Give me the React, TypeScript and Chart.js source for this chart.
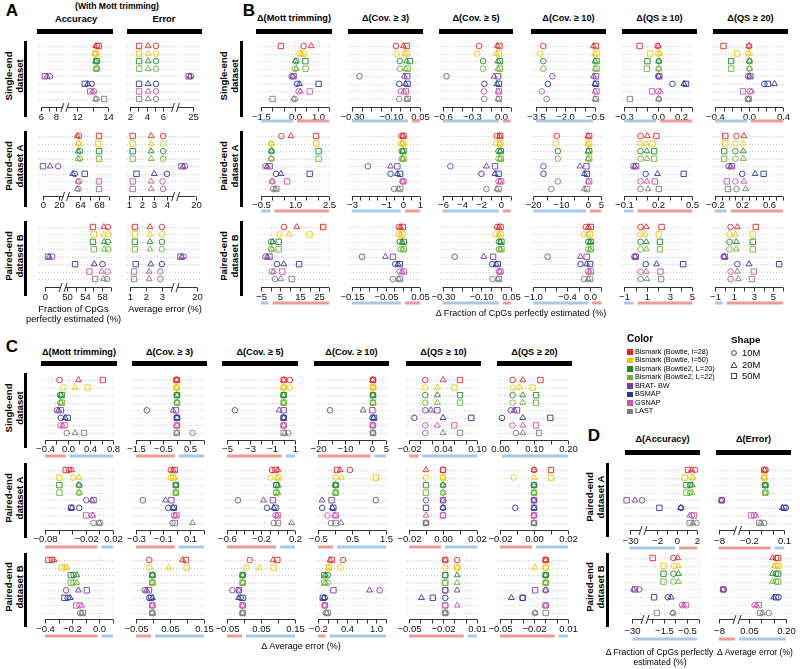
import React, { useEffect, useRef } from "react";
import { Chart, registerables } from "chart.js";

Chart.register(...registerables);

const FONT = '"Liberation Sans", Arial, Helvetica, sans-serif';

const ALIGNERS = [
  "Bismark (Bowtie, l=28)",
  "Bismark (Bowtie, l=50)",
  "Bismark (Bowtie2, L=20)",
  "Bismark (Bowtie2, L=22)",
  "BRAT- BW",
  "BSMAP",
  "GSNAP",
  "LAST",
];
const COLORS = ["#e0282a", "#f0c400", "#1e8a2c", "#6cb432", "#7a3ca0", "#2a3798", "#c852ac", "#7c7c7c"];
const READS = ["10M", "20M", "50M"];
const SHAPES = ["circle", "triangle", "rect"];
const RADII = [2.8, 3.4, 3.8];

const HEAD_A = ["Accuracy", "Error"];
const HEAD_BC = ["Δ(Mott trimming)", "Δ(Cov. ≥ 3)", "Δ(Cov. ≥ 5)", "Δ(Cov. ≥ 10)", "Δ(QS ≥ 10)", "Δ(QS ≥ 20)"];
const HEAD_D = ["Δ(Accuracy)", "Δ(Error)"];
const ROW_LABELS = [["Single-end", "dataset"], ["Paired-end", "dataset A"], ["Paired-end", "dataset B"]];

// each row: one aligner (order of ALIGNERS); columns: 10M, 20M, 50M reads
// ---------- Panel A ----------
const A_SE_ACC = [[13.3, 13.2, 13.4], [13.2, 13.15, 13.2], [13.3, 13.2, 13.25], [13.3, 13.25, 13.25], [7.2, 6.8, 6.5], [12.95, 12.7, 12.5], [13.1, 13.0, 12.85], [13.25, 13.2, 13.75]];
const A_SE_ERR = [[5.15, 4.2, 3.1], [5.15, 4.2, 3.1], [5.15, 4.2, 3.1], [5.15, 4.2, 3.1], [24.4, 24.1, 23.8], [5.15, 4.2, 3.1], [5.15, 4.2, 3.1], [5.15, 4.2, 3.1]];
const A_PA_ACC = [[63.8, 63.4, 68.0], [63.8, 63.7, 67.8], [64.0, 63.6, 68.0], [64.0, 63.6, 68.0], [19, 9, 0], [62.9, 62.5, 65.0], [63.8, 63.6, 68.0], [63.7, 63.4, 68.0]];
const A_PA_ERR = [[3.7, 2.75, 1.3], [3.7, 2.75, 1.3], [3.7, 2.75, 1.3], [3.7, 2.75, 1.3], [17.6, 17.2, 16.8], [4.0, 3.0, 1.6], [3.65, 2.75, 1.3], [3.7, 2.75, 1.3]];
const A_PB_ACC = [[59.35, 58.4, 55.9], [59.4, 58.4, 56.1], [59.3, 58.5, 55.9], [59.4, 58.5, 56.1], [13.7, 8, 5.6], [58.1, 56.2, 51.8], [59.3, 57.9, 55.1], [59.1, 58.3, 56.4]];
const A_PB_ERR = [[3.0, 2.25, 1.3], [3.0, 2.25, 1.3], [3.0, 2.25, 1.3], [3.0, 2.25, 1.3], [15.3, 14.7, 14.2], [3.0, 2.3, 1.35], [2.9, 2.2, 1.25], [2.9, 2.2, 1.25]];

// ---------- Panel B ----------
const B_SE_MOTT = [[0.38, 0.72, -0.62], [0.2, 0.28, 0.38], [0.06, 0.01, 0.46], [0.0, 0.06, 0.47], [-0.15, -0.09, -0.06], [0.09, 0.2, 1.04], [0.16, 0.24, 0.65], [-0.01, -0.06, -0.99]];
const B_SE_COV3 = [[-0.073, -0.035, -0.018], [-0.07, -0.027, -0.018], [-0.053, -0.018, -0.001], [-0.053, -0.023, -0.013], [-0.26, -0.03, -0.015], [-0.056, -0.024, -0.013], [-0.047, -0.032, -0.022], [-0.056, -0.018, -0.013]];
const B_SE_COV5 = [[-0.224, -0.038, -0.014], [-0.245, -0.045, -0.02], [-0.183, -0.03, -0.01], [-0.183, -0.03, -0.01], [-0.56, -0.07, -0.03], [-0.17, -0.04, -0.02], [-0.175, -0.03, -0.02], [-0.17, -0.03, -0.02]];
const B_SE_COV10 = [[-3.13, -0.58, -0.45], [-3.3, -0.5, -0.42], [-3.13, -0.5, -0.42], [-3.13, -0.5, -0.42], [-2.67, -0.58, -0.45], [-2.9, -0.5, -0.45], [-3.2, -0.5, -0.42], [-2.96, -0.5, -0.45]];
const B_SE_QS10 = [[-0.005, 0.0, -0.164], [0.0, 0.015, -0.07], [0.005, 0.005, -0.095], [0.005, 0.005, -0.1], [0.0, 0.005, 0.01], [0.126, 0.227, 0.245], [0.0, 0.02, -0.054], [0.005, 0.005, -0.25]];
const B_SE_QS20 = [[0.0, 0.0, -0.3], [-0.01, 0.005, -0.14], [0.005, 0.005, -0.21], [0.005, 0.005, -0.21], [-0.01, 0.008, 0.016], [0.18, 0.3, 0.22], [0.012, 0.03, -0.07], [-0.015, -0.004, -0.004]];
const B_PA_MOTT = [[0.4, 0.82, 1.93], [-0.05, -0.04, 1.94], [-0.04, -0.04, 2.04], [-0.04, -0.04, 2.04], [-0.3, -0.23, -0.12], [0.16, 0.38, 1.65], [0.0, -0.01, 0.65], [0.03, 0.13, 0.18]];
const B_PA_COV3 = [[-0.08, 0.02, 0.04], [-0.12, -0.02, 0.04], [-0.06, 0.0, 0.04], [-0.06, 0.0, 0.04], [-2.06, -0.72, -0.32], [-0.72, -0.32, -0.16], [-0.02, 0.0, 0.04], [-0.52, -0.26, -0.16]];
const B_PA_COV5 = [[-0.42, -0.13, -0.06], [-0.49, -0.13, -0.06], [-0.24, -0.06, 0.0], [-0.24, -0.06, 0.0], [-5.2, -1.48, -0.6], [-2.0, -0.6, -0.24], [-0.24, -0.06, 0.03], [-1.48, -0.42, -0.24]];
const B_PA_COV10 = [[-11.4, 0.0, 0.5], [-11.8, 0.0, 0.5], [-11.0, 0.1, 0.5], [-11.0, 0.1, 0.5], [-16.3, -2.9, -0.5], [-16.3, -1.3, -0.3], [-11.0, 0.2, 0.5], [-13.4, -1.3, -0.3]];
const B_PA_QS10 = [[0.044, 0.104, 0.185], [0.041, 0.095, 0.149], [0.044, 0.1, 0.164], [0.044, 0.1, 0.164], [-0.019, -0.007, 0.005], [0.089, 0.194, 0.425], [0.044, 0.1, 0.17], [0.044, 0.11, 0.206]];
const B_PA_QS20 = [[0.115, 0.225, -0.05], [0.1, 0.215, -0.05], [0.1, 0.215, -0.065], [0.1, 0.215, -0.065], [0.0, 0.03, 0.05], [0.2, 0.39, 0.515], [0.1, 0.225, -0.025], [0.115, 0.25, -0.01]];
const B_PB_MOTT = [[6.9, 13.4, 27], [4.6, 9.4, 20], [0.25, 1.1, 4.1], [0.25, 0.6, 4.1], [-2.7, -1.8, -0.6], [3.2, 6.7, 14.6], [0.6, 1.5, 6.0], [2.2, 5.2, 10.8]];
const B_PB_COV3 = [[-0.012, -0.007, 0.0], [-0.012, -0.007, -0.001], [-0.009, -0.002, 0.003], [-0.006, 0.0, 0.003], [-0.12, -0.051, -0.029], [-0.022, -0.014, -0.009], [-0.009, -0.002, 0.003], [-0.029, -0.012, -0.009]];
const B_PB_COV5 = [[-0.019, -0.01, -0.002], [-0.028, -0.012, -0.002], [-0.01, -0.002, 0.003], [-0.01, -0.002, 0.003], [-0.238, -0.088, -0.04], [-0.045, -0.024, -0.016], [-0.01, -0.005, -0.002], [-0.043, -0.016, -0.01]];
const B_PB_COV10 = [[-0.077, -0.028, 0.015], [-0.108, -0.04, 0.0], [-0.034, 0.0, 0.015], [-0.034, 0.0, 0.015], [-0.75, -0.17, -0.06], [-0.17, -0.06, 0.0], [-0.04, -0.01, 0.015], [-0.108, -0.034, 0.0]];
const B_PB_QS10 = [[0.44, 0.95, 2.3], [0.44, 0.86, 2.06], [0.44, 0.95, 2.15], [0.44, 0.95, 2.15], [-0.1, -0.04, 0.02], [0.9, 1.85, 4.2], [0.44, 0.95, 2.2], [0.44, 1.0, 2.25]];
const B_PB_QS20 = [[0.6, 1.3, 3.2], [0.5, 1.1, 2.9], [0.5, 1.2, 2.9], [0.5, 1.2, 2.9], [-0.12, -0.05, 0.02], [1.3, 2.5, 5.6], [0.6, 1.3, 3.0], [0.6, 1.4, 2.8]];

// ---------- Panel C ----------
const C_SE_MOTT = [[-0.145, 0.19, 0.62], [-0.075, 0.13, 0.35], [-0.13, -0.12, -0.1], [-0.13, -0.12, -0.1], [-0.19, -0.16, -0.12], [-0.12, -0.045, 0.0], [-0.13, -0.09, -0.055], [-0.015, 0.13, 0.29]];
const C_SE_COV3 = [[-0.04, 0.0, 0.01], [-0.03, 0.0, 0.01], [0.0, 0.01, 0.01], [0.0, 0.01, 0.01], [-1.1, -0.14, -0.03], [0.0, 0.01, 0.01], [0.0, 0.0, 0.01], [0.58, 0.0, 0.0]];
const C_SE_COV5 = [[0.55, 0.0, 0.0], [0.55, 0.0, 0.0], [0.0, 0.0, 0.0], [0.0, 0.0, 0.0], [-4.3, -0.4, 0.0], [0.0, 0.0, 0.0], [0.0, 0.0, 0.0], [0.4, 0.1, 0.0]];
const C_SE_COV10 = [[0.3, 0.1, 0.2], [0.3, 0.1, 0.2], [0.2, 0.2, 0.2], [0.2, 0.2, 0.2], [-15.6, -3.4, 0.0], [0.0, 0.5, 0.6], [0.1, 0.1, 0.2], [0.2, 0.2, 0.2]];
const C_SE_QS10 = [[0.0087, 0.04, 0.07], [0.0087, 0.03, 0.06], [0.0087, 0.03, 0.07], [0.0087, 0.03, 0.07], [0.0087, 0.019, 0.03], [-0.0105, 0.04, 0.09], [0.0087, 0.03, 0.06], [0.0087, 0.04, 0.07]];
const C_SE_QS20 = [[0.037, 0.067, 0.119], [0.037, 0.057, 0.096], [0.037, 0.067, 0.106], [0.037, 0.067, 0.106], [0.032, 0.042, 0.05], [0.006, 0.067, 0.148], [0.037, 0.067, 0.106], [0.047, 0.067, 0.115]];
const C_PA_MOTT = [[-0.0445, -0.0406, -0.0495], [-0.039, -0.03, -0.0588], [-0.03, -0.03, -0.0588], [-0.03, -0.03, -0.0588], [-0.0194, -0.011, -0.0086], [-0.0298, -0.0406, -0.0415], [-0.011, -0.0096, -0.0194], [-0.0086, 0.0, 0.0]];
const C_PA_COV3 = [[-0.044, -0.027, -0.015], [-0.044, -0.015, -0.027], [-0.007, -0.007, -0.007], [-0.007, -0.007, -0.007], [-0.25, -0.083, -0.039], [-0.063, -0.027, -0.022], [-0.02, -0.01, -0.002], [-0.032, 0.115, -0.015]];
const C_PA_COV5 = [[-0.07, 0.0, -0.03], [-0.09, -0.006, 0.006], [-0.02, 0.0, -0.02], [-0.02, 0.0, -0.02], [-0.47, -0.17, -0.06], [-0.13, -0.05, -0.03], [-0.03, -0.01, 0.0], [-0.05, 0.16, 0.0]];
const C_PA_COV10 = [[0.44, 0.15, 0.06], [0.02, 0.19, 1.2], [0.02, 0.02, 0.02], [0.02, 0.02, 0.02], [1.2, -0.38, -0.1], [-0.38, -0.08, -0.05], [-0.22, 0.0, 0.02], [-0.12, 0.18, 0.02]];
const C_PA_QS10 = [[0.0, -0.01, 0.0], [-0.01, 0.0, 0.0], [0.0, 0.0, -0.01], [0.0, 0.0, -0.01], [-0.01, 0.0, 0.0], [0.0, 0.0, -0.01], [0.0, -0.01, 0.0], [-0.01, -0.01, -0.01]];
const C_PA_QS20 = [[0.0, 0.0, 0.01], [-0.012, 0.0, 0.01], [0.0, 0.0, 0.0], [0.0, 0.0, 0.0], [0.0, 0.0, 0.0], [-0.011, 0.0, 0.0], [0.0, 0.0, 0.0], [0.0, 0.0, 0.0]];
const C_PB_MOTT = [[-0.35, -0.333, -0.375], [-0.25, -0.24, -0.277], [-0.19, -0.166, -0.21], [-0.19, -0.166, -0.21], [-0.245, -0.154, -0.092], [-0.233, -0.215, -0.257], [-0.146, -0.13, -0.17], [-0.141, -0.13, -0.122]];
const C_PB_COV3 = [[-0.011, 0.087, 0.097], [-0.011, 0.047, 0.099], [-0.002, -0.002, -0.002], [-0.002, -0.002, -0.002], [-0.024, -0.019, -0.012], [-0.011, -0.002, -0.006], [-0.002, -0.002, -0.002], [-0.002, -0.002, -0.002]];
const C_PB_COV5 = [[0.017, 0.086, 0.098], [0.007, 0.045, 0.087], [-0.004, -0.004, -0.004], [-0.004, -0.004, -0.004], [-0.034, -0.015, -0.015], [-0.01, -0.016, -0.004], [-0.004, -0.004, -0.004], [-0.004, -0.004, -0.004]];
const C_PB_COV10 = [[0.315, 0.047, 0.083], [0.26, 0.012, 0.03], [0.0, -0.05, -0.07], [0.0, -0.05, -0.07], [1.07, 0.86, 0.118], [-0.06, -0.08, -0.1], [-0.06, -0.06, -0.06], [-0.04, -0.02, 0.0]];
const C_PB_QS10 = [[-0.0075, -0.018, -0.018], [-0.018, -0.0075, -0.0075], [-0.018, -0.0075, -0.018], [-0.018, -0.0075, -0.018], [-0.018, -0.0075, -0.018], [-0.018, -0.039, -0.029], [-0.018, -0.0075, -0.018], [-0.018, -0.018, -0.018]];
const C_PB_QS20 = [[-0.0097, -0.0097, -0.0097], [-0.0097, -0.019, -0.0097], [-0.0097, -0.0097, -0.0097], [-0.0097, -0.0097, -0.0097], [-0.0097, -0.0097, -0.019], [-0.03, -0.04, -0.03], [-0.0097, -0.0097, -0.0097], [-0.019, -0.019, -0.0097]];

// ---------- Panel D ----------
const D_PA_ACC = [[1.8, 1.45, 1.1], [1.45, 1.6, 0.77], [1.3, 1.5, 0.94], [1.3, 1.5, 0.94], [-24.5, -27.6, -31.3], [0.4, 0.37, -1.76], [1.5, 1.27, 1.7], [1.95, 1.6, 1.27]];
const D_PA_ERR = [[-0.06, -0.07, -0.07], [-0.07, -0.07, -0.07], [-0.062, -0.062, -0.062], [-0.062, -0.062, -0.062], [-7.6, -7.7, -7.65], [0.115, 0.085, 0.1], [-0.16, -0.142, -0.185], [-0.07, -0.1, -0.115]];
const D_PB_ACC = [[-1.08, -0.9, -1.96], [-1.05, -0.87, -1.5], [-1.08, -0.87, -1.5], [-1.08, -0.87, -1.5], [-27.4, -29.6, -29.0], [-1.32, -1.18, -1.9], [-0.72, -0.65, -0.55], [-1.1, -1.12, -1.78]];
const D_PB_ERR = [[0.16, 0.145, 0.168], [0.16, 0.152, 0.168], [0.16, 0.145, 0.168], [0.16, 0.145, 0.168], [-7.4, -7.5, -7.45], [0.17, 0.15, 0.16], [0.073, 0.08, 0.09], [0.13, 0.105, 0.095]];

type Spec = { data: number[][]; t?: number[]; px?: number[]; segs?: number[][]; ticks?: number[]; lab: string[] };
type Geo = { r0: number; r1: number; ax: number; lb: number; cb: number };

const A_SPECS: Spec[][] = [
  [
    { data: A_SE_ACC, segs: [[6, 41, 8.8, 62], [11.4, 67.7, 14, 108]], ticks: [6, 7, 8, 12, 13, 14], lab: ["6", "8", "12", "14"] },
    { data: A_SE_ERR, segs: [[1.6, 126.7, 7.2, 172.9], [21, 178, 27, 201]], ticks: [2, 3, 4, 5, 6, 25], lab: ["2", "4", "6", "25"] },
  ],
  [
    { data: A_PA_ACC, segs: [[0, 43, 25, 63], [61.5, 68.1, 70.5, 110.9]], ticks: [0, 20, 64, 66, 68, 70], lab: ["0", "20", "64", "68"] },
    { data: A_PA_ERR, segs: [[0.85, 127, 4.5, 173.3], [16, 178, 21, 200]], ticks: [1, 2, 3, 4, 20], lab: ["1", "2", "3", "4", "20"] },
  ],
  [
    { data: A_PB_ACC, segs: [[0, 45, 30, 61], [49.5, 65, 60.5, 113]], ticks: [0, 50, 52, 54, 56, 58, 60], lab: ["0", "50", "54", "58"] },
    { data: A_PB_ERR, segs: [[0.8, 127, 3.7, 173], [13, 177, 21, 200]], ticks: [1, 2, 3, 20], lab: ["1", "2", "3", "20"] },
  ],
];

const B_SPECS: Spec[][] = [
  [
    { data: B_SE_MOTT, t: [-1.5, 1.5, 0.5], lab: ["−1.5", "0.0", "1.0"] },
    { data: B_SE_COV3, t: [-0.3, 0.05, 0.05], lab: ["−0.30", "−0.10", "0.05"] },
    { data: B_SE_COV5, t: [-0.6, 0.1, 0.1], lab: ["−0.6", "−0.3", "0.0"] },
    { data: B_SE_COV10, t: [-3.5, -0.5, 0.5], px: [536, 595], lab: ["−3.5", "−2.0", "−0.5"] },
    { data: B_SE_QS10, t: [-0.3, 0.3, 0.1], lab: ["−0.3", "0.0", "0.2"] },
    { data: B_SE_QS20, t: [-0.4, 0.4, 0.1], lab: ["−0.4", "0.0", "0.4"] },
  ],
  [
    { data: B_PA_MOTT, t: [-0.5, 2.5, 0.5], lab: ["−0.5", "1.0", "2.5"] },
    { data: B_PA_COV3, t: [-3, 1, 0.5], lab: ["−3", "−1", "0", "1"] },
    { data: B_PA_COV5, t: [-6, 1, 1], lab: ["−6", "−4", "−2", "0"] },
    { data: B_PA_COV10, t: [-20, 5, 5], lab: ["−20", "−10", "0", "5"] },
    { data: B_PA_QS10, t: [-0.1, 0.5, 0.1], lab: ["−0.1", "0.2", "0.5"] },
    { data: B_PA_QS20, t: [-0.2, 0.8, 0.1], lab: ["−0.2", "0.2", "0.6"] },
  ],
  [
    { data: B_PB_MOTT, t: [-5, 30, 5], lab: ["−5", "5", "15", "25"] },
    { data: B_PB_COV3, t: [-0.15, 0.05, 0.025], lab: ["−0.15", "−0.05", "0.05"] },
    { data: B_PB_COV5, t: [-0.3, 0.05, 0.05], lab: ["−0.30", "−0.10", "0.05"] },
    { data: B_PB_COV10, t: [-1, 0.2, 0.2], lab: ["−1.0", "−0.4", "0.0"] },
    { data: B_PB_QS10, t: [-1, 5, 1], lab: ["−1", "1", "3", "5"] },
    { data: B_PB_QS20, t: [-1, 6, 1], lab: ["−1", "1", "3", "5"] },
  ],
];

const C_SPECS: Spec[][] = [
  [
    { data: C_SE_MOTT, t: [-0.4, 0.8, 0.2], lab: ["−0.4", "0.0", "0.4", "0.8"] },
    { data: C_SE_COV3, t: [-1.5, 1, 0.5], lab: ["−1.5", "−0.5", "0.5"] },
    { data: C_SE_COV5, t: [-5, 1, 1], lab: ["−5", "−3", "−1", "1"] },
    { data: C_SE_COV10, t: [-20, 5, 5], lab: ["−20", "−10", "0", "5"] },
    { data: C_SE_QS10, t: [-0.02, 0.1, 0.02], lab: ["−0.02", "0.04", "0.10"] },
    { data: C_SE_QS20, t: [0, 0.2, 0.05], lab: ["0.00", "0.10", "0.20"] },
  ],
  [
    { data: C_PA_MOTT, t: [-0.08, 0.02, 0.02], lab: ["−0.08", "−0.02", "0.02"] },
    { data: C_PA_COV3, t: [-0.3, 0.2, 0.1], lab: ["−0.3", "−0.1", "0.1"] },
    { data: C_PA_COV5, t: [-0.6, 0.2, 0.1], lab: ["−0.6", "−0.2", "0.2"] },
    { data: C_PA_COV10, t: [-0.5, 1.5, 0.5], lab: ["−0.5", "0.5", "1.5"] },
    { data: C_PA_QS10, t: [-0.02, 0.02, 0.01], lab: ["−0.02", "0.00", "0.02"] },
    { data: C_PA_QS20, t: [-0.02, 0.02, 0.01], lab: ["−0.02", "0.00", "0.02"] },
  ],
  [
    { data: C_PB_MOTT, t: [-0.4, 0.1, 0.1], lab: ["−0.4", "−0.2", "0.0"] },
    { data: C_PB_COV3, t: [-0.05, 0.15, 0.05], lab: ["−0.05", "0.05", "0.15"] },
    { data: C_PB_COV5, t: [-0.05, 0.15, 0.05], lab: ["−0.05", "0.05", "0.15"] },
    { data: C_PB_COV10, t: [-0.2, 1.2, 0.2], lab: ["−0.2", "0.4", "1.0"] },
    { data: C_PB_QS10, t: [-0.05, 0.01, 0.01], lab: ["−0.05", "−0.02", "0.01"] },
    { data: C_PB_QS20, t: [-0.05, 0.01, 0.01], lab: ["−0.05", "−0.02", "0.01"] },
  ],
];

const D_SPECS: Spec[][] = [
  [
    { data: D_PA_ACC, segs: [[-32, 625, -25, 641], [-3.2, 645, 2.2, 699]], ticks: [-30, -2, -1, 0, 1, 2], lab: ["−30", "−2", "0", "2"] },
    { data: D_PA_ERR, segs: [[-8.6, 714, -6, 735], [-0.28, 740, 0.15, 790]], ticks: [-8, -0.2, -0.1, 0, 0.1], lab: ["−8", "−0.2", "0.1"] },
  ],
  [
    { data: D_PB_ACC, segs: [[-32, 627, -26, 643], [-2.2, 647, 0, 699]], ticks: [-30, -2, -1.5, -1, -0.5, 0], lab: ["−30", "−1.5", "−0.5"] },
    { data: D_PB_ERR, segs: [[-8.6, 714, -6, 735], [0.01, 739, 0.22, 791]], ticks: [-8, 0.05, 0.1, 0.15, 0.2], lab: ["−8", "0.05", "0.20"] },
  ],
];

// ---------- layout ----------
const G_TOP: Geo[] = [
  { r0: 46, r1: 99, ax: 107, lb: 117, cb: 121 },
  { r0: 136, r1: 189, ax: 196, lb: 205.5, cb: 211 },
  { r0: 227, r1: 279, ax: 287, lb: 297, cb: 303 },
];
const G_C: Geo[] = [
  { r0: 380, r1: 433, ax: 440, lb: 449, cb: 456 },
  { r0: 470, r1: 523, ax: 530, lb: 539.5, cb: 547 },
  { r0: 560, r1: 613, ax: 619, lb: 629, cb: 636 },
];
const G_D: Geo[] = [
  { r0: 470, r1: 523, ax: 530, lb: 541, cb: 548 },
  { r0: 558, r1: 613, ax: 619, lb: 631, cb: 639 },
];
const A_COLS = [[39, 112], [127, 201]];
const B_COLS = [0, 1, 2, 3, 4, 5].map((i) => [259 + 90.8 * i, 331 + 90.8 * i]);
const C_COLS = [0, 1, 2, 3, 4, 5].map((i) => [43 + 91 * i, 115 + 91 * i]);
const D_COLS = [[625, 699], [715, 791]];

const BLUE_BAR = "#a8c8e6";
const RED_BAR = "#ee9a98";

const pv = (s: string) => parseFloat(s.replace("−", "-"));

function SubPlot(props: { L: number; R: number; g: Geo; spec: Spec; bar: string | null; zero: boolean }) {
  const { L, R, g, spec, bar, zero } = props;
  const ref = useRef<HTMLCanvasElement | null>(null);
  const left = Math.floor(L) - 20;
  const top = Math.floor(g.r0) - 10;
  const width = Math.ceil(R) + 20 - left;
  const height = Math.ceil(g.cb) + 6 - top;

  useEffect(() => {
    const half = (g.r1 - g.r0) / 14;
    let f: (v: number) => number;
    let min: number;
    let max: number;
    let tickVals: number[] = [];
    const segs = spec.segs;
    if (segs) {
      f = (v: number) => {
        let q = segs[0];
        if (segs.length > 1 && v > (segs[0][2] + segs[1][0]) / 2) q = segs[1];
        return q[1] + ((v - q[0]) * (q[3] - q[1])) / (q[2] - q[0]);
      };
      min = L;
      max = R;
      tickVals = spec.ticks || [];
    } else {
      const t = spec.t as number[];
      const p = spec.px || [L + 2, R - 2];
      const k = (t[1] - t[0]) / (p[1] - p[0]);
      min = t[0] - (p[0] - L) * k;
      max = t[1] + (R - p[1]) * k;
      f = (v: number) => v;
      const n = Math.round((t[1] - t[0]) / t[2]);
      for (let i = 0; i <= n; i++) tickVals.push(t[0] + i * t[2]);
    }
    const labs = spec.lab.map((s) => ({ v: pv(s), s }));
    const labelFor = (tv: number) => {
      const m = labs.find((o) => Math.abs(o.v - tv) < 1e-6);
      return m ? m.s : null;
    };

    const zeroPx = (xs: any) => {
      const x0 = xs.getPixelForValue(f(tickVals[0]));
      const x1 = xs.getPixelForValue(f(tickVals[tickVals.length - 1]));
      let z: number | null = null;
      let inside = false;
      if (segs) {
        for (const q of segs) {
          if (0 >= Math.min(q[0], q[2]) && 0 <= Math.max(q[0], q[2])) {
            z = xs.getPixelForValue(f(0));
            inside = true;
          }
        }
        if (z === null) {
          if (segs.length > 1 && 0 > segs[0][2] && 0 < segs[1][0]) z = xs.getPixelForValue((segs[0][3] + segs[1][1]) / 2);
          else z = 0 < segs[0][0] ? x0 : x1;
        }
      } else {
        z = xs.getPixelForValue(0);
        inside = 0 > min && 0 < max;
      }
      return { z: Math.max(x0, Math.min(x1, z as number)), raw: z as number, inside, x0, x1 };
    };

    const plugin = {
      id: "rstyle",
      beforeDatasetsDraw(chart: any) {
        const { ctx, chartArea: ca, scales } = chart;
        const ys = scales.y;
        const xs = scales.x;
        ctx.save();
        ctx.strokeStyle = "rgba(120,120,120,0.5)";
        ctx.lineWidth = 0.8;
        ctx.setLineDash([1, 2]);
        for (let r = 0; r < 8; r++) {
          const y = Math.round(ys.getPixelForValue(r)) + 0.5;
          ctx.beginPath();
          ctx.moveTo(ca.left, y);
          ctx.lineTo(ca.right, y);
          ctx.stroke();
        }
        if (zero) {
          const zp = zeroPx(xs);
          if (zp.inside) {
            const x = Math.round(zp.raw) + 0.5;
            ctx.strokeStyle = "rgba(150,150,150,0.45)";
            ctx.beginPath();
            ctx.moveTo(x, ca.top);
            ctx.lineTo(x, ca.bottom);
            ctx.stroke();
          }
        }
        ctx.restore();
      },
      afterDatasetsDraw(chart: any) {
        const { ctx, scales } = chart;
        const xs = scales.x;
        const ay = Math.round(g.ax - top) + 0.5;
        const zp = zeroPx(xs);
        ctx.save();
        ctx.setLineDash([]);
        ctx.strokeStyle = "#333";
        ctx.lineWidth = 1;
        ctx.beginPath();
        ctx.moveTo(zp.x0, ay);
        ctx.lineTo(zp.x1, ay);
        ctx.stroke();
        ctx.fillStyle = "#111";
        ctx.font = `9.5px ${FONT}`;
        ctx.textAlign = "center";
        ctx.textBaseline = "middle";
        for (const tv of tickVals) {
          const x = Math.round(xs.getPixelForValue(f(tv))) + 0.5;
          ctx.beginPath();
          ctx.moveTo(x, ay);
          ctx.lineTo(x, ay + 4);
          ctx.stroke();
          const s = labelFor(tv);
          if (s) ctx.fillText(s, x, g.lb - top);
        }
        if (segs && segs.length > 1) {
          const bx = xs.getPixelForValue((segs[0][3] + segs[1][1]) / 2);
          ctx.fillStyle = "#fff";
          ctx.fillRect(bx - 2.2, ay - 1.5, 4.4, 3);
          ctx.beginPath();
          ctx.moveTo(bx - 4, ay + 4.5);
          ctx.lineTo(bx - 1, ay - 4.5);
          ctx.moveTo(bx + 1, ay + 4.5);
          ctx.lineTo(bx + 4, ay - 4.5);
          ctx.stroke();
        }
        if (bar) {
          const negC = bar === "acc" ? BLUE_BAR : RED_BAR;
          const posC = bar === "acc" ? RED_BAR : BLUE_BAR;
          const cy = g.cb - top;
          ctx.lineWidth = 3;
          if (zp.z > zp.x0 + 2.5) {
            ctx.strokeStyle = negC;
            ctx.beginPath();
            ctx.moveTo(zp.x0, cy);
            ctx.lineTo(zp.z - 2, cy);
            ctx.stroke();
          }
          if (zp.z < zp.x1 - 2.5) {
            ctx.strokeStyle = posC;
            ctx.beginPath();
            ctx.moveTo(zp.z + 2, cy);
            ctx.lineTo(zp.x1, cy);
            ctx.stroke();
          }
        }
        ctx.restore();
      },
    };

    const datasets = READS.map((rd, j) => ({
      label: rd,
      data: spec.data.map((row, i) => ({ x: f(row[j]), y: i })),
      pointStyle: SHAPES[j],
      pointRadius: RADII[j],
      pointBorderWidth: 0.9,
      pointBorderColor: COLORS,
      pointBackgroundColor: "rgba(0,0,0,0)",
      showLine: false,
      clip: false,
    }));

    const chart = new Chart(ref.current as HTMLCanvasElement, {
      type: "scatter",
      data: { datasets } as any,
      options: {
        responsive: false,
        animation: false,
        devicePixelRatio: 1,
        events: [],
        layout: {
          padding: {
            left: L - left,
            right: left + width - R,
            top: g.r0 - half - top,
            bottom: top + height - (g.r1 + half),
          },
        },
        scales: {
          x: { type: "linear", display: false, min, max },
          y: { type: "linear", display: false, min: -0.5, max: 7.5, reverse: true },
        },
        plugins: { legend: { display: false }, tooltip: { enabled: false } },
      } as any,
      plugins: [plugin as any],
    });
    return () => chart.destroy();
  }, []);

  return (
    <canvas
      ref={ref}
      width={width}
      height={height}
      style={{ position: "absolute", left, top, width, height }}
    />
  );
}

function Txt(props: { x: number; y: number; size?: number; bold?: boolean; rot?: boolean; left?: boolean; children: any }) {
  const { x, y, size = 9.5, bold = false, rot = false, left = false } = props;
  return (
    <div
      style={{
        position: "absolute",
        left: x,
        top: y,
        transform: `${left ? "translate(0,-50%)" : "translate(-50%,-50%)"}${rot ? " rotate(-90deg)" : ""}`,
        font: `${bold ? "bold " : ""}${size}px ${FONT}`,
        whiteSpace: "nowrap",
        lineHeight: rot ? "10.5px" : "1.1",
        textAlign: "center",
        color: "#000",
      }}
    >
      {props.children}
    </div>
  );
}

function Box(props: { x: number; y: number; w: number; h: number; c?: string }) {
  return <div style={{ position: "absolute", left: props.x, top: props.y, width: props.w, height: props.h, background: props.c || "#000" }} />;
}

function ShapeIcon(props: { k: number; x: number; y: number }) {
  const { k, x, y } = props;
  return (
    <svg width={8} height={8} style={{ position: "absolute", left: x - 4, top: y - 4 }}>
      {k === 0 && <circle cx={4} cy={4} r={2.4} fill="none" stroke="#333" strokeWidth={0.9} />}
      {k === 1 && <polygon points="4,1 7,6.5 1,6.5" fill="none" stroke="#333" strokeWidth={0.9} />}
      {k === 2 && <rect x={1.5} y={1.5} width={5} height={5} fill="none" stroke="#333" strokeWidth={0.9} />}
    </svg>
  );
}

function RowLabel(props: { cx: number; cy: number; lines: string[] }) {
  return (
    <Txt x={props.cx} y={props.cy} rot bold size={9.6}>
      {props.lines[0]}
      <br />
      {props.lines[1]}
    </Txt>
  );
}

export default function App() {
  const els: any[] = [];
  A_SPECS.forEach((row, r) =>
    row.forEach((spec, c) =>
      els.push(<SubPlot key={`a${r}${c}`} L={A_COLS[c][0]} R={A_COLS[c][1]} g={G_TOP[r]} spec={spec} bar={null} zero={false} />)
    )
  );
  B_SPECS.forEach((row, r) =>
    row.forEach((spec, c) =>
      els.push(<SubPlot key={`b${r}${c}`} L={B_COLS[c][0]} R={B_COLS[c][1]} g={G_TOP[r]} spec={spec} bar="acc" zero={true} />)
    )
  );
  C_SPECS.forEach((row, r) =>
    row.forEach((spec, c) =>
      els.push(<SubPlot key={`c${r}${c}`} L={C_COLS[c][0]} R={C_COLS[c][1]} g={G_C[r]} spec={spec} bar="err" zero={true} />)
    )
  );
  D_SPECS.forEach((row, r) =>
    row.forEach((spec, c) =>
      els.push(<SubPlot key={`d${r}${c}`} L={D_COLS[c][0]} R={D_COLS[c][1]} g={G_D[r]} spec={spec} bar={c === 0 ? "acc" : "err"} zero={true} />)
    )
  );

  const B_BARS = [[256, 332], [348, 423], [439, 513], [531, 606], [622, 697], [713, 788]];
  const C_BARS = [[41, 117], [132, 207], [222, 298], [314, 389], [406, 481], [497, 572]];
  const D_BARS = [[625, 700], [716, 791]];
  const A_BARS = [[37, 113], [127, 202]];
  const TOP_VB = [[41, 117], [131, 207], [221, 296]];
  const C_VB = [[373, 448], [463, 538], [553, 627]];
  const D_VB = [[463, 537], [553, 627]];

  return (
    <div style={{ position: "absolute", left: 0, top: 0, width: 800, height: 669, background: "#fff", overflow: "hidden" }}>
      <Txt x={12} y={11} size={17} bold>A</Txt>
      <Txt x={249} y={11} size={17} bold>B</Txt>
      <Txt x={12} y={347} size={17} bold>C</Txt>
      <Txt x={594} y={436} size={17} bold>D</Txt>

      <Txt x={117} y={6.5} size={8.6} bold>(With Mott trimming)</Txt>
      {HEAD_A.map((h, i) => (
        <Txt key={h} x={i === 0 ? 76 : 164} y={19} size={9.4} bold>{h}</Txt>
      ))}
      {A_BARS.map((b, i) => <Box key={`ab${i}`} x={b[0]} y={29} w={b[1] - b[0]} h={5} />)}

      {HEAD_BC.map((h, i) => (
        <Txt key={`bh${i}`} x={(B_BARS[i][0] + B_BARS[i][1]) / 2} y={18} size={9.2} bold>{h}</Txt>
      ))}
      {B_BARS.map((b, i) => <Box key={`bb${i}`} x={b[0]} y={29} w={b[1] - b[0]} h={5} />)}

      {HEAD_BC.map((h, i) => (
        <Txt key={`ch${i}`} x={(C_BARS[i][0] + C_BARS[i][1]) / 2} y={352} size={9.2} bold>{h}</Txt>
      ))}
      {C_BARS.map((b, i) => <Box key={`cb${i}`} x={b[0]} y={361} w={b[1] - b[0]} h={5} />)}

      {HEAD_D.map((h, i) => (
        <Txt key={`dh${i}`} x={(D_BARS[i][0] + D_BARS[i][1]) / 2} y={439} size={9.2} bold>{h}</Txt>
      ))}
      {D_BARS.map((b, i) => <Box key={`db${i}`} x={b[0]} y={450} w={b[1] - b[0]} h={5} />)}

      {TOP_VB.map((v, i) => (
        <React.Fragment key={`tv${i}`}>
          <Box x={24} y={v[0]} w={3} h={v[1] - v[0]} />
          <RowLabel cx={13.5} cy={(v[0] + v[1]) / 2 - 3} lines={ROW_LABELS[i]} />
          <Box x={239.5} y={v[0]} w={3} h={v[1] - v[0]} />
          <RowLabel cx={229} cy={(v[0] + v[1]) / 2 - 3} lines={ROW_LABELS[i]} />
        </React.Fragment>
      ))}
      {C_VB.map((v, i) => (
        <React.Fragment key={`cv${i}`}>
          <Box x={24} y={v[0]} w={3} h={v[1] - v[0]} />
          <RowLabel cx={13.5} cy={(v[0] + v[1]) / 2 - 3} lines={ROW_LABELS[i]} />
        </React.Fragment>
      ))}
      {D_VB.map((v, i) => (
        <React.Fragment key={`dv${i}`}>
          <Box x={606} y={v[0]} w={3} h={v[1] - v[0]} />
          <RowLabel cx={594.5} cy={(v[0] + v[1]) / 2 - 3} lines={ROW_LABELS[i + 1]} />
        </React.Fragment>
      ))}

      {els}

      <Txt x={73.5} y={308.5} size={9.3}>Fraction of CpGs</Txt>
      <Txt x={73.5} y={318.5} size={9.3}>perfectly estimated (%)</Txt>
      <Txt x={165} y={308.5} size={9.3}>Average error (%)</Txt>
      <Txt x={521} y={314} size={9}>Δ Fraction of CpGs perfectly estimated (%)</Txt>
      <Txt x={301} y={647} size={9}>Δ Average error (%)</Txt>
      <Txt x={659.5} y={653.3} size={8.6}>Δ Fraction of CpGs perfectly</Txt>
      <Txt x={660} y={663.3} size={8.6}>estimated (%)</Txt>
      <Txt x={755} y={653.3} size={8.6}>Δ Average error (%)</Txt>

      <Txt x={627} y={338} size={10} bold left>Color</Txt>
      {ALIGNERS.map((a, i) => (
        <React.Fragment key={`lg${i}`}>
          <Box x={627} y={352 + 8.47 * i - 2.75} w={5.5} h={5.5} c={COLORS[i]} />
          <Txt x={635} y={352 + 8.47 * i} size={7.3} left>{a}</Txt>
        </React.Fragment>
      ))}
      <Txt x={731} y={340} size={9.8} bold left>Shape</Txt>
      {READS.map((rd, k) => (
        <React.Fragment key={`sh${k}`}>
          <ShapeIcon k={k} x={734} y={353.3 + 11.2 * k} />
          <Txt x={742} y={353.3 + 11.2 * k} size={9.4} left>{rd}</Txt>
        </React.Fragment>
      ))}
    </div>
  );
}
